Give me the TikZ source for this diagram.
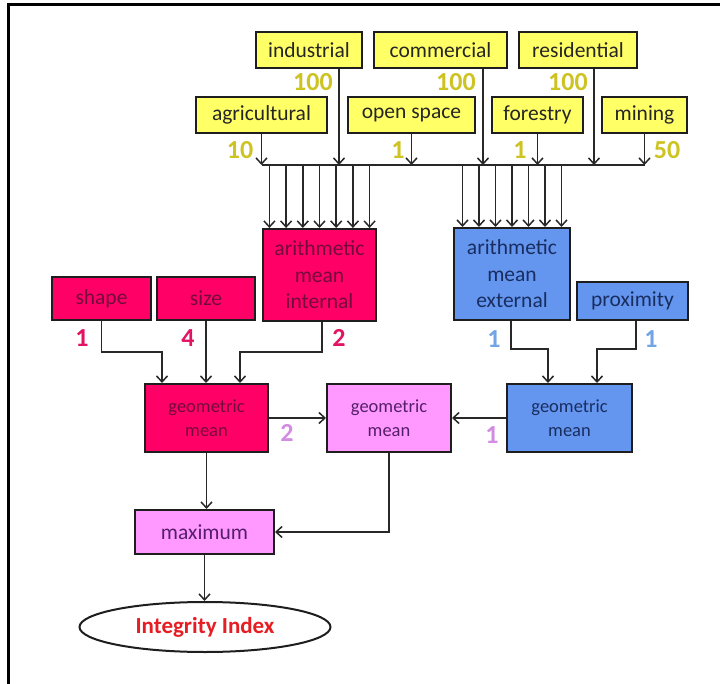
\documentclass[tikz,border=0pt]{standalone}
\usepackage{fontspec}
\setmainfont{Carlito}
\usetikzlibrary{arrows.meta,shapes.geometric}

\definecolor{boxline}{RGB}{30,30,30}
\definecolor{linegray}{RGB}{40,40,40}
\definecolor{landyellow}{RGB}{255,255,102}
\definecolor{intred}{RGB}{255,0,102}
\definecolor{intdark}{RGB}{115,10,60}
\definecolor{extblue}{RGB}{100,150,240}
\definecolor{extdark}{RGB}{25,45,95}
\definecolor{mixpink}{RGB}{255,153,255}
\definecolor{mixdark}{RGB}{85,30,105}
\definecolor{wyellow}{RGB}{205,195,35}
\definecolor{wred}{RGB}{225,20,100}
\definecolor{wblue}{RGB}{115,165,230}
\definecolor{wpink}{RGB}{210,140,225}
\definecolor{idxred}{RGB}{230,30,35}

\tikzset{
  box/.style={draw=boxline, line width=2pt, inner sep=0pt, align=center,
    font=\fontsize{21.5}{26.5}\selectfont},
  landbox/.style={box, fill=landyellow, text=black!85, minimum height=36pt},
  intbox/.style={box, fill=intred, text=intdark},
  extbox/.style={box, fill=extblue, text=extdark},
  mixbox/.style={box, fill=mixpink, text=mixdark},
  geobox/.style={font=\fontsize{18.5}{24}\selectfont, minimum height=68pt},
  weight/.style={font=\bfseries\fontsize{26}{26}\selectfont},
  wire/.style={draw=linegray, line width=1.5pt},
  arr/.style={wire, -{Straight Barb[length=6pt,width=11pt]}},
}

\begin{document}
\begin{tikzpicture}[x=1pt, y=-1pt]
  \useasboundingbox (0,0) rectangle (720,684);

  % 外框：只有上边和左边
  \draw[line width=3pt] (8,684) -- (8,5) -- (720,5);

  % 土地利用类型（上下两排）
  \node[landbox, minimum width=106pt] (ind) at (309,50)   {industrial};
  \node[landbox, minimum width=133pt] (com) at (440.5,50) {commercial};
  \node[landbox, minimum width=118pt] (res) at (578,50)   {residential};
  \node[landbox, minimum width=131pt] (agr) at (261.5,115) {agricultural};
  \node[landbox, minimum width=127pt] (opn) at (411.5,115) {open space};
  \node[landbox, minimum width=91pt]  (fst) at (537.5,115) {forestry};
  \node[landbox, minimum width=85pt]  (mne) at (644.5,115) {mining};

  % 汇总线的高度
  \coordinate (bus) at (0,165);

  % 各类型到汇总线
  \draw[arr] (agr.south) -- (agr.south |- bus);
  \draw[arr] ([xshift=30pt]ind.south) -- ([xshift=30pt]ind.south |- bus);
  \draw[arr] (opn.south) -- (opn.south |- bus);
  \draw[arr] ([xshift=42.5pt]com.south) -- ([xshift=42.5pt]com.south |- bus);
  \draw[arr] (fst.south) -- (fst.south |- bus);
  \draw[arr] ([xshift=16pt]res.south) -- ([xshift=16pt]res.south |- bus);
  \draw[arr] (mne.south) -- (mne.south |- bus);
  \draw[wire] (agr.south |- bus) -- (mne.south |- bus);

  % 权重
  \node[weight, text=wyellow] (wInd) at (313,82)  {100};
  \node[weight, text=wyellow] (wCom) at (456,82)  {100};
  \node[weight, text=wyellow] (wRes) at (568,82)  {100};
  \node[weight, text=wyellow] (wAgr) at (240,150) {10};
  \node[weight, text=wyellow] (wOpn) at (398,150) {1};
  \node[weight, text=wyellow] (wFst) at (520,150) {1};
  \node[weight, text=wyellow] (wMne) at (667,150) {50};

  % 中间一层
  \node[intbox, minimum width=99pt, minimum height=43pt] (shp) at (101.5,298.5) {shape};
  \node[intbox, minimum width=98pt, minimum height=43pt] (siz) at (206,298.5)   {size};
  \node[intbox, minimum width=113pt, minimum height=92pt] (int) at (319.5,275)
    {arithmetic\\mean\\internal};
  \node[extbox, minimum width=116pt, minimum height=92pt] (ext) at (512,274)
    {arithmetic\\mean\\external};
  \node[extbox, minimum width=111pt, minimum height=38pt] (prx) at (632.5,301) {proximity};

  % 汇总线到两个算术平均
  \foreach \i in {-3,...,3} {
    \draw[arr] ([xshift=\i*16.7pt]int.north |- bus) -- ([xshift=\i*16.7pt]int.north);
    \draw[arr] ([xshift=\i*16.5pt]ext.north |- bus) -- ([xshift=\i*16.5pt]ext.north);
  }

  % 几何平均
  \node[intbox, geobox, minimum width=123pt] (geoL) at (206.5,418) {geometric\\mean};
  \node[mixbox, geobox, minimum width=124pt] (geoM) at (389,418)   {geometric\\mean};
  \node[extbox, geobox, minimum width=125pt] (geoR) at (569.5,418) {geometric\\mean};

  \coordinate (jL) at (0,352);
  \coordinate (jR) at (0,349);
  \draw[arr] (shp.south) -- (shp.south |- jL) -| ([xshift=-44.5pt]geoL.north);
  \draw[arr] (siz.south) -- (siz.south |- geoL.north);
  \draw[arr] ([xshift=2.5pt]int.south) -- ([xshift=2.5pt]int.south |- jL)
    -| ([xshift=33.5pt]geoL.north);
  \draw[arr] ([xshift=-1pt]ext.south) -- ([xshift=-1pt]ext.south |- jR)
    -| ([xshift=-21.5pt]geoR.north);
  \draw[arr] ([xshift=3.5pt]prx.south) -- ([xshift=3.5pt]prx.south |- jR)
    -| ([xshift=27.5pt]geoR.north);

  \node[weight, text=wred]  (wShp) at (82,338)  {1};
  \node[weight, text=wred]  (wSiz) at (188,338) {4};
  \node[weight, text=wred]  (wInt) at (339,338) {2};
  \node[weight, text=wblue] (wExt) at (494,339) {1};
  \node[weight, text=wblue] (wPrx) at (651,339) {1};

  \draw[arr] (geoL.east) -- (geoM.west);
  \draw[arr] (geoR.west) -- (geoM.east);
  \node[weight, text=wpink] (wGeoL) at (287,433) {2};
  \node[weight, text=wpink] (wGeoR) at (492,435) {1};

  % 最大值与完整性指数
  \node[mixbox, minimum width=139pt, minimum height=44pt] (mx) at (204.5,532) {maximum};
  \draw[arr] (geoL.south) -- (geoL.south |- mx.north);
  \draw[arr] (geoM.south) |- (mx.east);

  \node[ellipse, draw=boxline, line width=2pt, fill=white, inner sep=0pt,
    minimum width=251pt, minimum height=50pt, text=idxred,
    font=\bfseries\fontsize{23}{23}\selectfont] (idx) at (205,627) {Integrity Index};
  \draw[arr] (mx.south) -- (mx.south |- idx.north);
\end{tikzpicture}
\end{document}
